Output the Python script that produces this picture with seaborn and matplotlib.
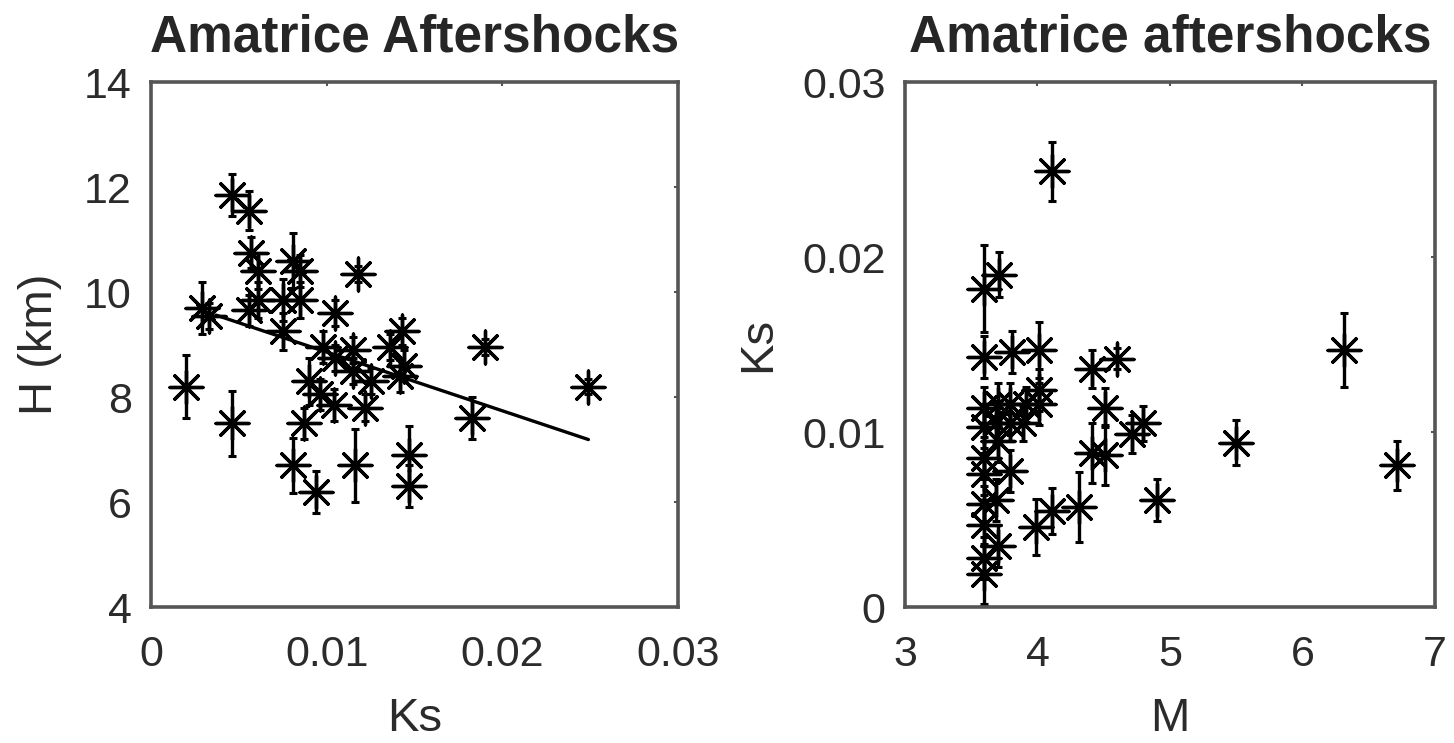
import numpy as np
import matplotlib
matplotlib.use('Agg')
import matplotlib.pyplot as plt
import seaborn as sns

# ---- left panel: H vs Ks ----
ks_left = [0.0046, 0.0056, 0.0057, 0.0061, 0.0081, 0.0085, 0.0118, 0.0029, 0.0033, 0.0056,
           0.0061, 0.0075, 0.0085, 0.0075, 0.0105, 0.0098, 0.0115, 0.0115, 0.0105, 0.0143,
           0.0136, 0.0144, 0.0142, 0.0125, 0.0090, 0.0096, 0.0104, 0.0122, 0.0020, 0.0046,
           0.0087, 0.0081, 0.0094, 0.0116, 0.0147, 0.0147, 0.0190, 0.0249, 0.0183]
h_left = [11.85, 11.55, 10.75, 10.40, 10.60, 10.40, 10.35, 9.70, 9.55, 9.65,
          9.85, 9.85, 9.85, 9.25, 9.60, 8.95, 8.90, 8.50, 8.75, 9.25,
          8.95, 8.60, 8.40, 8.30, 8.30, 8.05, 7.85, 7.80, 8.20, 7.50,
          7.50, 6.70, 6.20, 6.70, 6.90, 6.30, 8.95, 8.20, 7.60]
h_err = [0.40, 0.37, 0.30, 0.35, 0.52, 0.30, 0.15, 0.50, 0.25, 0.30,
         0.35, 0.40, 0.35, 0.35, 0.25, 0.30, 0.25, 0.25, 0.25, 0.25,
         0.25, 0.30, 0.30, 0.25, 0.45, 0.30, 0.30, 0.25, 0.60, 0.62,
         0.30, 0.52, 0.40, 0.70, 0.55, 0.40, 0.15, 0.15, 0.40]
fit_ks = [0.0037, 0.0249]
fit_h = [9.56, 7.19]

# ---- right panel: Ks vs M ----
m_right = [3.60, 3.71, 3.60, 3.81, 4.01, 4.01, 4.01, 3.60, 3.70, 3.79,
           3.91, 3.60, 3.69, 3.89, 3.60, 3.79, 3.60, 3.69, 3.60, 3.70,
           3.60, 3.60, 3.99, 4.11, 4.31, 4.41, 4.60, 4.51, 4.41, 4.51,
           4.71, 4.80, 4.90, 4.11, 6.31, 5.50, 6.71, 3.60, 3.70, 3.79]
ks_right = [0.0182, 0.0190, 0.0143, 0.0146, 0.0147, 0.0124, 0.0116, 0.0114, 0.0116, 0.0116,
            0.0116, 0.0103, 0.0105, 0.0105, 0.0085, 0.0078, 0.0076, 0.0061, 0.0047, 0.0035,
            0.0028, 0.0019, 0.0046, 0.0055, 0.0057, 0.0136, 0.0142, 0.0114, 0.0088, 0.0087,
            0.0099, 0.0105, 0.0061, 0.0249, 0.0147, 0.0094, 0.0081, 0.0059, 0.0095, 0.0105]
ks_err = [0.0025, 0.0013, 0.0012, 0.0012, 0.0016, 0.0012, 0.0012, 0.0012, 0.0012, 0.0012,
          0.0010, 0.0012, 0.0012, 0.0010, 0.0012, 0.0012, 0.0012, 0.0012, 0.0012, 0.0012,
          0.0012, 0.0017, 0.0016, 0.0013, 0.0020, 0.0011, 0.0006, 0.0011, 0.0017, 0.0017,
          0.0011, 0.0010, 0.0012, 0.0017, 0.0021, 0.0013, 0.0014, 0.0010, 0.0012, 0.0010]

sns.set_style('white')
plt.rcParams['font.family'] = ['Liberation Sans', 'DejaVu Sans']
axis_col = '#555555'
text_col = '#2b2b2b'

fig = plt.figure(figsize=(14.54, 7.43), dpi=100)
ax1 = fig.add_axes([0.1039, 0.1830, 0.3624, 0.7066])
ax2 = fig.add_axes([0.6224, 0.1830, 0.3645, 0.7066])

star = (8, 2, 0)

# Left: error bars, points, fitted line
ax1.errorbar(ks_left, h_left, yerr=h_err, fmt='none', ecolor='black',
             elinewidth=2.4, capsize=3, capthick=2.2, zorder=2)
sns.scatterplot(x=ks_left, y=h_left, marker=star, s=560, color='black',
                linewidth=2.4, ax=ax1, zorder=3)
sns.lineplot(x=fit_ks, y=fit_h, color='black', linewidth=2.4, ax=ax1, zorder=4)
ax1.set_xlim(0, 0.03)
ax1.set_ylim(4, 14)
ax1.set_xticks([0, 0.01, 0.02, 0.03])
ax1.set_xticklabels(['0', '0.01', '0.02', '0.03'])
ax1.set_yticks([4, 6, 8, 10, 12, 14])
ax1.set_xlabel('Ks', fontsize=34, color=text_col, labelpad=16)
ax1.set_ylabel('H (km)', fontsize=34, color=text_col, labelpad=16)
ax1.set_title('Amatrice Aftershocks', fontsize=37, fontweight='bold', pad=22)

# Right: error bars and points
ax2.errorbar(m_right, ks_right, yerr=ks_err, fmt='none', ecolor='black',
             elinewidth=2.4, capsize=3, capthick=2.2, zorder=2)
sns.scatterplot(x=m_right, y=ks_right, marker=star, s=560, color='black',
                linewidth=2.4, ax=ax2, zorder=3)
ax2.set_xlim(3, 7)
ax2.set_ylim(0, 0.03)
ax2.set_xticks([3, 4, 5, 6, 7])
ax2.set_yticks([0, 0.01, 0.02, 0.03])
ax2.set_yticklabels(['0', '0.01', '0.02', '0.03'])
ax2.set_xlabel('M', fontsize=34, color=text_col, labelpad=16)
ax2.set_ylabel('Ks', fontsize=34, color=text_col, labelpad=16)
ax2.set_title('Amatrice aftershocks', fontsize=37, fontweight='bold', pad=22)

for ax in (ax1, ax2):
    for sp in ax.spines.values():
        sp.set_visible(True)
        sp.set_color(axis_col)
        sp.set_linewidth(2.6)
    ax.tick_params(direction='in', length=3, width=1.5, top=True, right=True,
                   labelsize=31, labelcolor=text_col, color=axis_col)
    ax.tick_params(axis='x', pad=20)
    ax.tick_params(axis='y', pad=14)

fig.savefig('out.png', dpi=100, facecolor='white')
